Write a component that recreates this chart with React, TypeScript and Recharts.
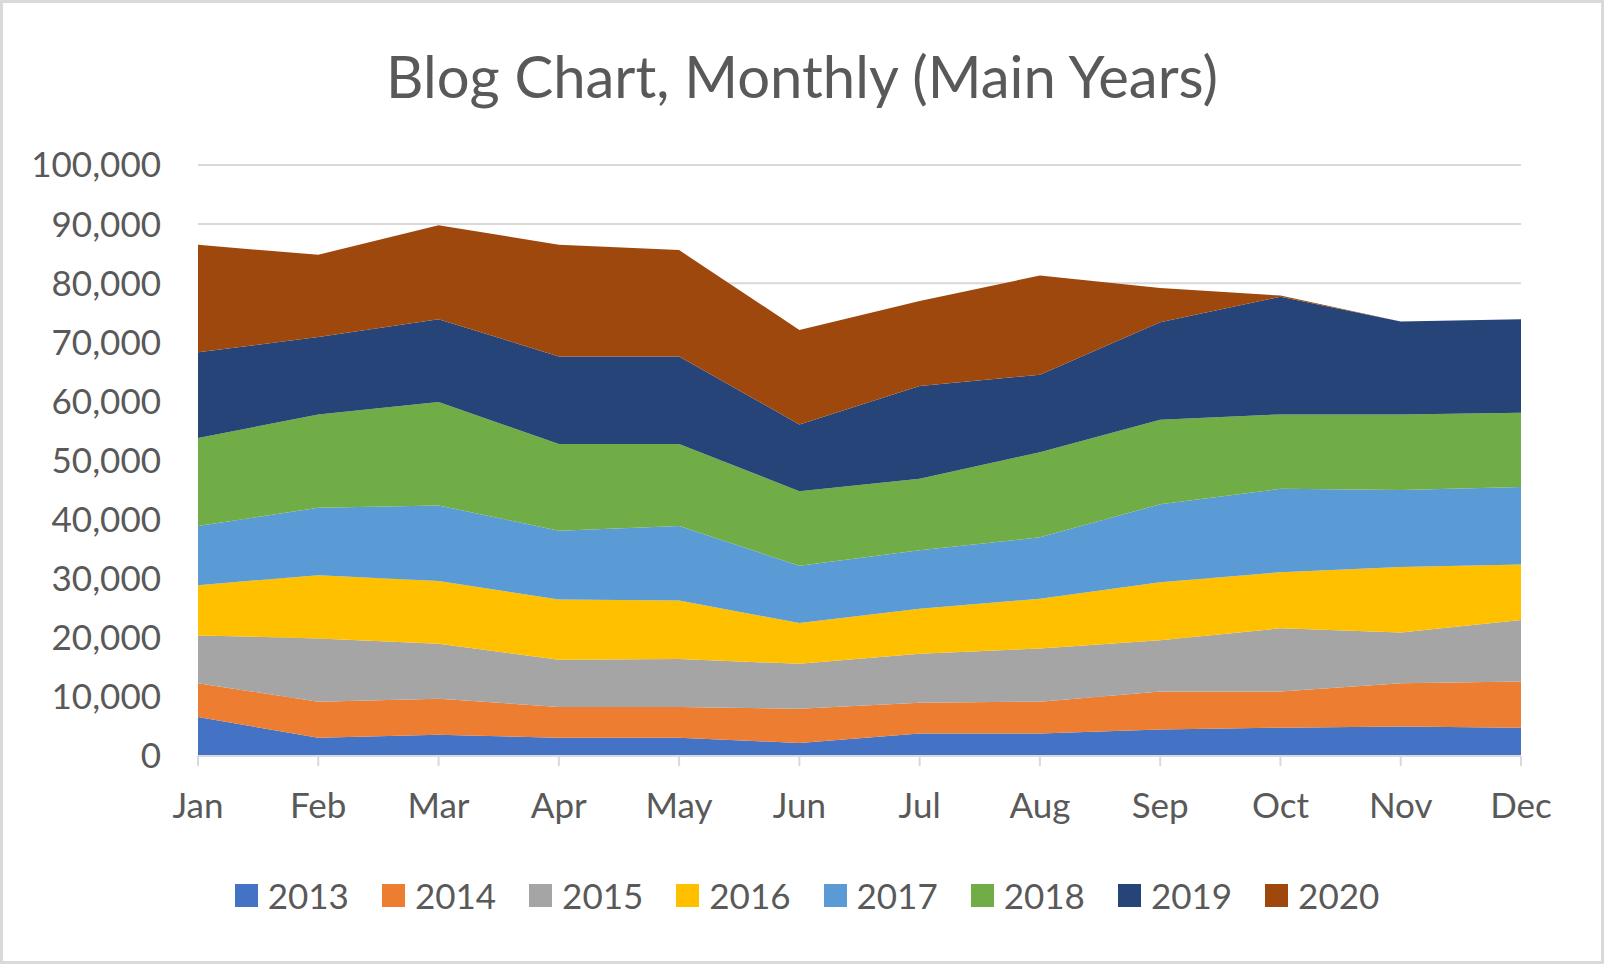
import React from 'react';
import { AreaChart, Area, XAxis, YAxis, CartesianGrid, Legend } from 'recharts';

const months = ['Jan', 'Feb', 'Mar', 'Apr', 'May', 'Jun', 'Jul', 'Aug', 'Sep', 'Oct', 'Nov', 'Dec'];
const years = ['2013', '2014', '2015', '2016', '2017', '2018', '2019', '2020'];
const yTicks = [0, 10000, 20000, 30000, 40000, 50000, 60000, 70000, 80000, 90000, 100000];

const v2013 = [6600, 3100, 3600, 3100, 3100, 2200, 3800, 3800, 4500, 4800, 5000, 4800];
const v2014 = [5700, 6100, 6100, 5200, 5200, 5800, 5200, 5400, 6400, 6100, 7300, 7800];
const v2015 = [8100, 10700, 9300, 8000, 8100, 7600, 8300, 9000, 8700, 10700, 8600, 10400];
const v2016 = [8500, 10700, 10600, 10200, 9900, 6900, 7600, 8400, 9800, 9500, 11100, 9400];
const v2017 = [10000, 11400, 12800, 11600, 12600, 9700, 9900, 10400, 13200, 14100, 13000, 13100];
const v2018 = [14900, 15800, 17500, 14700, 13900, 12600, 12100, 14400, 14300, 12600, 12800, 12600];
const v2019 = [14500, 13100, 14000, 14800, 14800, 11300, 15700, 13100, 16500, 19900, 15700, 15800];
const v2020 = [18200, 13900, 15900, 18900, 18000, 16000, 14400, 16800, 5800, 200, 0, 0];

const series = [v2013, v2014, v2015, v2016, v2017, v2018, v2019, v2020];
const colors = ['#4472C4', '#ED7D31', '#A5A5A5', '#FFC000', '#5B9BD5', '#70AD47', '#264478', '#9E480E'];

const data = months.map((m, i) => {
  const row: Record<string, string | number> = { month: m };
  years.forEach((y, k) => {
    row[y] = series[k][i];
  });
  return row;
});

const font = 'Lato, "Open Sans", sans-serif';
const textColor = '#595959';

const LegendContent = (props: any) => {
  const { payload } = props;
  return (
    <div style={{ display: 'flex', justifyContent: 'center', alignItems: 'center', height: 60, paddingLeft: 10 }}>
      {(payload || []).map((p: any, i: number) => (
        <div key={i} style={{ display: 'flex', alignItems: 'center', marginRight: i < payload.length - 1 ? 33 : 0 }}>
          <span style={{ display: 'inline-block', width: 23, height: 23, background: p.color, marginRight: 10 }} />
          <span style={{ fontFamily: font, fontSize: 35, color: textColor }}>{p.value}</span>
        </div>
      ))}
    </div>
  );
};

export default function App() {
  return (
    <div
      style={{
        position: 'absolute',
        left: 0,
        top: 0,
        width: 1604,
        height: 964,
        background: '#fff',
        border: '3px solid #d9d9d9',
        boxSizing: 'border-box',
      }}
    >
      <div
        style={{
          position: 'absolute',
          left: -3,
          top: 44,
          width: 1604,
          textAlign: 'center',
          fontFamily: font,
          fontSize: 58,
          lineHeight: 1,
          color: textColor,
        }}
      >
        Blog Chart, Monthly (Main Years)
      </div>
      <div style={{ position: 'absolute', left: -3, top: -3 }}>
        <AreaChart width={1604} height={964} data={data} margin={{ top: 165, right: 83, left: 0, bottom: 39 }}>
          <CartesianGrid vertical={false} stroke="#d9d9d9" strokeWidth={2} />
          <XAxis
            dataKey="month"
            height={109}
            axisLine={{ stroke: '#d9d9d9', strokeWidth: 2 }}
            tickLine={{ stroke: '#d9d9d9', strokeWidth: 2 }}
            tickSize={10}
            tickMargin={27}
            interval={0}
            tick={{ fill: textColor, fontSize: 35, fontFamily: font }}
          />
          <YAxis
            width={198}
            domain={[0, 100000]}
            ticks={yTicks}
            interval={0}
            axisLine={false}
            tickLine={false}
            tickSize={0}
            tickMargin={37}
            tickFormatter={(v: number) => v.toLocaleString('en-US')}
            tick={{ fill: textColor, fontSize: 35, fontFamily: font }}
          />
          <Legend
            verticalAlign="bottom"
            height={60}
            wrapperStyle={{ left: 0, width: 1604 }}
            content={<LegendContent />}
          />
          {years.map((y, k) => (
            <Area
              key={y}
              type="linear"
              dataKey={y}
              stackId="1"
              stroke="none"
              fill={colors[k]}
              fillOpacity={1}
              isAnimationActive={false}
            />
          ))}
        </AreaChart>
      </div>
    </div>
  );
}
